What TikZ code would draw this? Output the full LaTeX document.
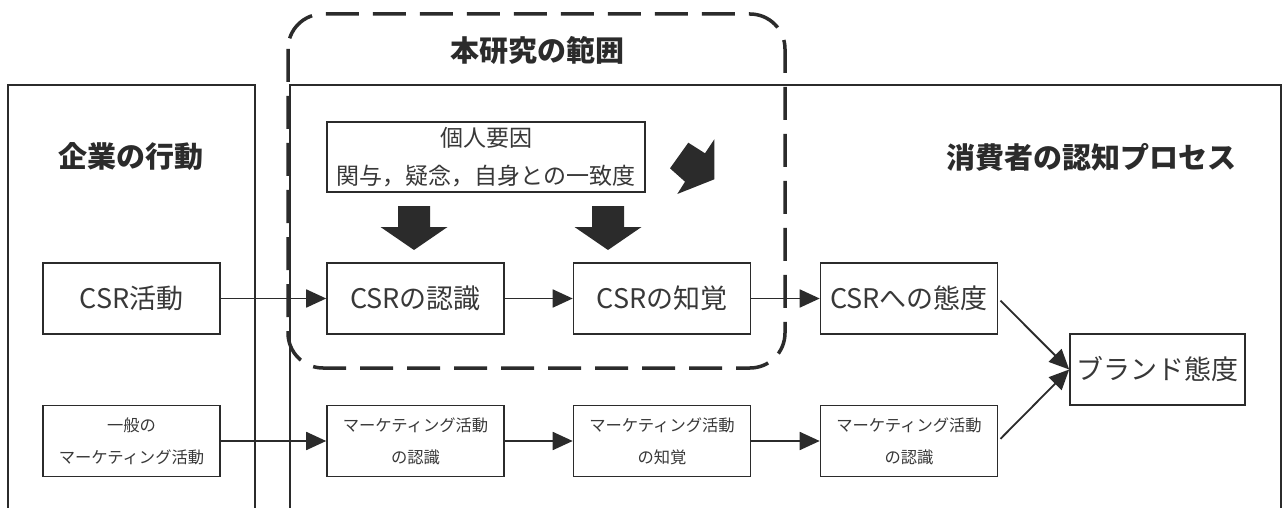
\documentclass[tikz,border=0pt]{standalone}
\usepackage{fontspec}
\setmainfont{Noto Sans CJK JP}
\usetikzlibrary{arrows.meta}
\definecolor{ink}{HTML}{2B2B2B}
\definecolor{txt}{HTML}{383838}
\begin{document}
\begin{tikzpicture}[x=1pt,y=-1pt,
  bigbox/.style={draw=ink, line width=1.6pt, minimum width=177pt, minimum height=71pt, inner sep=0pt, font=\fontsize{27}{30}\selectfont, text=txt},
  smallbox/.style={bigbox, font=\fontsize{16.3}{32}\selectfont, align=center},
  frameline/.style={draw=ink, line width=1.3pt},
  titletext/.style={font=\fontsize{29}{32}\selectfont\bfseries, text=ink},
  conn/.style={draw=ink, line width=1.8pt, -{Triangle[length=20pt,width=18pt]}},
  blockarrow/.style={fill=ink},
  scopebox/.style={draw=ink, line width=3.5pt, dash pattern=on 33pt off 14pt, rounded corners=35pt}
]
\fill[white] (0,0) rectangle (1283,508);
\useasboundingbox (0,0) rectangle (1283,508);

% outer frames
\draw[frameline] (8,508) -- (8,85) -- (255,85) -- (255,508);
\draw[frameline] (290,508) -- (290,85) -- (1281,85) -- (1281,508);

% scope of this study
\draw[scopebox] (288,14) rectangle (785,368);

% titles
\node[titletext] (scopetitle) at (537,50) {本研究の範囲};
\node[titletext] (corptitle) at (131,157) {企業の行動};
\node[titletext] (constitle) at (1091,157) {消費者の認知プロセス};

% personal factors
\node[draw=ink, line width=1.3pt, minimum width=318pt, minimum height=70pt, inner sep=0pt,
      text=txt, align=center, font=\fontsize{23}{38}\selectfont] (factor) at (486,157)
      {個人要因\\関与，疑念，自身との一致度};

% block arrows
\foreach \cx in {414,608}{
  \fill[blockarrow] (\cx-16,206) -- (\cx+16,206) -- (\cx+16,227) -- (\cx+33.5,227)
    -- (\cx,250) -- (\cx-33.5,227) -- (\cx-16,227) -- cycle;
}
\fill[blockarrow] (688.3,142.7) -- (705,153.3) -- (714.3,139.3) -- (714.3,179.3)
  -- (677.3,194) -- (685,181.7) -- (670,168.3) -- cycle;

% row 1
\node[bigbox] (csract) at (131.5,298.5) {CSR活動};
\node[bigbox] (csrrec) at (415.5,298.5) {CSRの認識};
\node[bigbox] (csrper) at (662,298.5) {CSRの知覚};
\node[bigbox] (csratt) at (909,298.5) {CSRへの態度};
\node[bigbox, minimum width=175pt] (brand) at (1157.5,369.5) {ブランド態度};

% row 2
\node[smallbox] (mkact) at (131.5,441) {一般の\\マーケティング活動};
\node[smallbox] (mkrec) at (415.5,441) {マーケティング活動\\の認識};
\node[smallbox] (mkper) at (662,441) {マーケティング活動\\の知覚};
\node[smallbox] (mkrec2) at (909,441) {マーケティング活動\\の認識};

% connectors
\draw[conn] (csract.east) -- (csrrec.west);
\draw[conn] (csrrec.east) -- (csrper.west);
\draw[conn] (csrper.east) -- (csratt.west);
\draw[conn] (mkact.east) -- (mkrec.west);
\draw[conn] (mkrec.east) -- (mkper.west);
\draw[conn] (mkper.east) -- (mkrec2.west);
\draw[conn, shorten <=3pt] (csratt.east) -- (brand.west);
\draw[conn, shorten <=3pt] (mkrec2.east) -- (brand.west);
\end{tikzpicture}
\end{document}
